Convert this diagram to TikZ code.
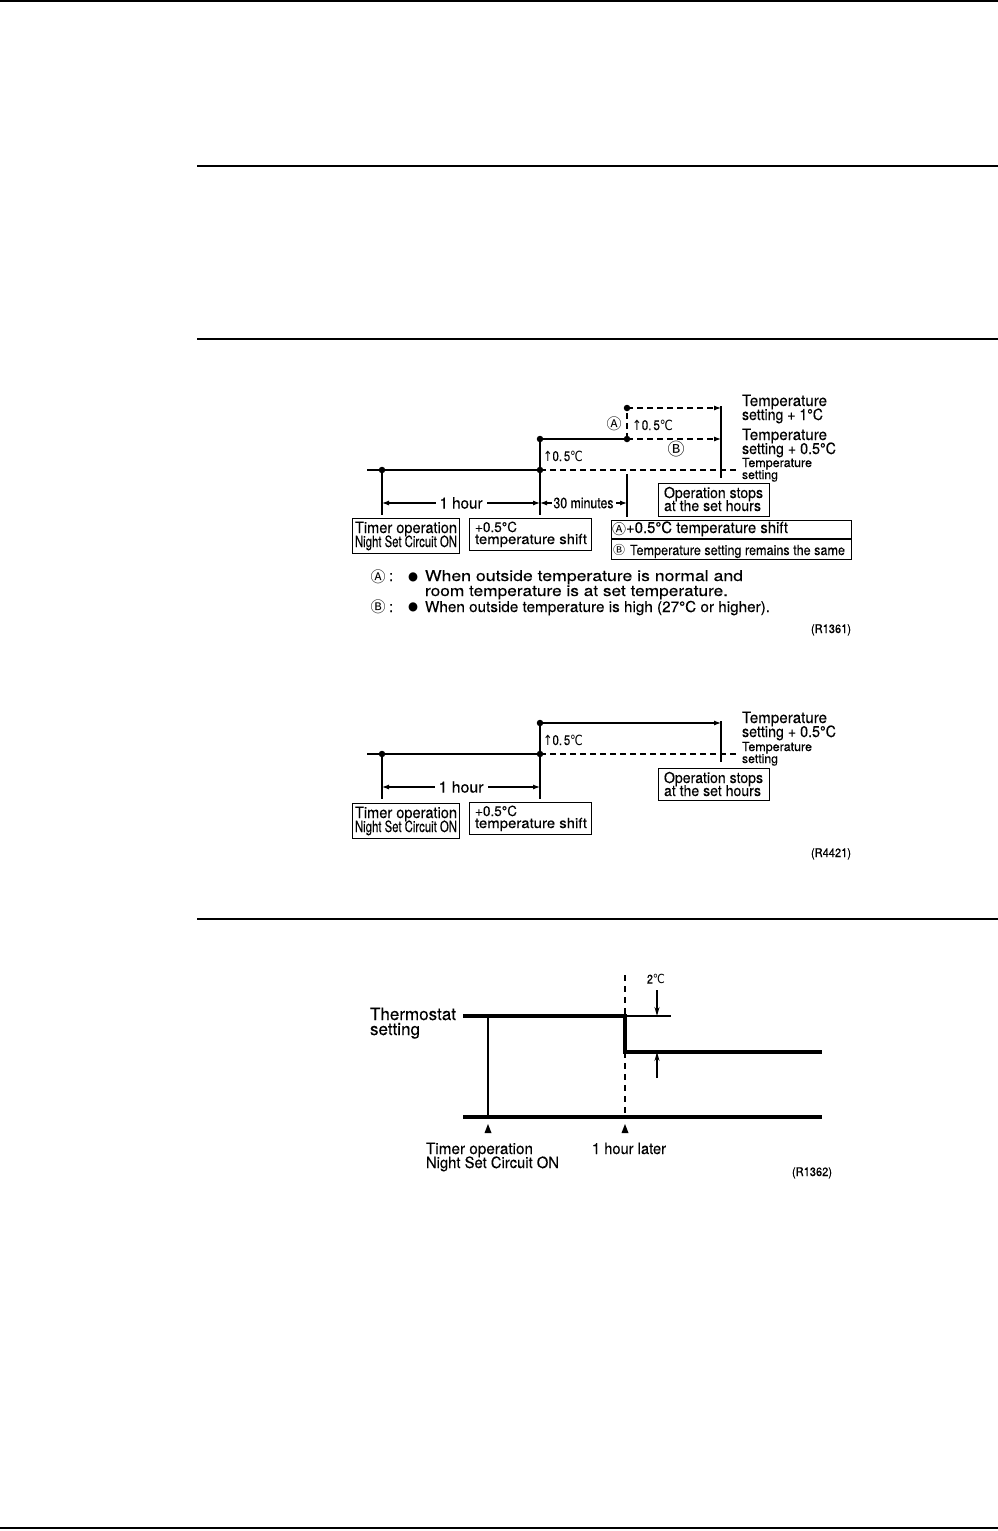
\documentclass[tikz,border=0pt]{standalone}
\usepackage{fontspec}
\usepackage{graphicx}
\setmainfont{TeX Gyre Heros}[FakeBold=0.2]
\newfontfamily\dvs{DejaVu Sans}
\newfontfamily\cjk{Noto Sans CJK JP}
\usetikzlibrary{arrows.meta}
\newcommand\tw[2]{\resizebox{#1pt}{\height}{#2}}
\begin{document}
\begin{tikzpicture}[x=1pt,y=-1pt,
  ln/.style={line width=1.1pt},
  rule/.style={line width=1.4pt},
  thk/.style={line width=3.2pt},
  dsh/.style={dash pattern=on 6pt off 4pt},
  dotn/.style={circle,fill=black,inner sep=0pt,minimum size=6.5pt},
  bx/.style={draw,line width=1.1pt,inner sep=0pt,anchor=north west},
  lbl/.style={inner sep=0pt,outer sep=0pt,anchor=base west},
  ctr/.style={inner sep=0pt,outer sep=0pt,anchor=center},
  ah/.style={-{Latex[length=7pt,width=5pt]}},
  dimar/.style={{Latex[length=7pt,width=5pt]}-{Latex[length=7pt,width=5pt]}},
  gap/.style={fill=white,inner xsep=4pt,inner ysep=1pt,anchor=center},
  s16/.style={font=\fontsize{17}{17}\selectfont},
  s15/.style={font=\fontsize{15.5}{15.5}\selectfont},
  s14/.style={font=\fontsize{15}{15}\selectfont},
  s13/.style={font=\fontsize{14}{14}\selectfont},
  s12/.style={font=\fontsize{12.5}{12.5}\selectfont},
  s11/.style={font=\fontsize{12}{12}\selectfont},
  circ/.style={inner sep=0pt,outer sep=0pt,anchor=center,font=\cjk\fontsize{#1}{#1}\selectfont},
]
\useasboundingbox (0,0) rectangle (998,1531);
\path[fill=white] (0,0) rectangle (998,1531);

% ---------- page rules ----------
\coordinate (r0a) at (0,0.8);    \coordinate (r0b) at (998,0.8);
\coordinate (r1a) at (197,166);  \coordinate (r1b) at (998,166);
\coordinate (r2a) at (197,339);  \coordinate (r2b) at (998,339);
\coordinate (r3a) at (197,919);  \coordinate (r3b) at (998,919);
\coordinate (r4a) at (0,1528);   \coordinate (r4b) at (998,1528);
\draw[rule] (r0a) -- (r0b);
\draw[rule] (r1a) -- (r1b);
\draw[rule] (r2a) -- (r2b);
\draw[rule] (r3a) -- (r3b);
\draw[rule] (r4a) -- (r4b);

% ---------- diagram R1361 ----------
\node[dotn] (a1) at (382,470) {};
\node[dotn] (a2) at (540,470) {};
\node[dotn] (a3) at (540,439) {};
\node[dotn] (a4) at (627,439) {};
\node[dotn] (a5) at (627,408) {};
\coordinate (a0) at (367,470);
\coordinate (aend) at (737,470);
\coordinate (a1b) at (382,515);
\coordinate (a2b) at (540,515);
\coordinate (a4t) at (627,474);
\coordinate (a4b) at (627,517);
\coordinate (art) at (721,406);
\coordinate (arb) at (721,478);
\coordinate (ar1) at (721,408);
\coordinate (ar2) at (721,439);
\coordinate (ad1) at (382,503);
\coordinate (ad2) at (540,503);
\coordinate (ad3) at (627,503);

\draw[ln] (a0) -- (a1.center) -- (a2.center);
\draw[ln,dsh] (a2.center) -- (aend);
\draw[ln] (a1.center) -- (a1b);
\draw[ln] (a3.center) -- (a2b);
\draw[ln] (a3.center) -- (a4.center);
\draw[ln,dsh,ah] (a4.center) -- (ar2);
\draw[ln,dsh] (a4.center) -- (a5.center);
\draw[ln,dsh,ah] (a5.center) -- (ar1);
\draw[ln] (art) -- (arb);
\draw[ln] (a4t) -- (a4b);
\draw[ln,dimar] (ad1) -- node[gap,s15] (h1) {\tw{43}{1 hour}} (ad2);
\draw[ln,dimar] (ad2) -- node[gap,s14,inner xsep=2pt] (m30) {\tw{60}{30 minutes}} (ad3);

\node[lbl,s13] (up1) at (543,461) {\tw{40}{{\dvs ↑}0.\,5{\dvs ℃}}};
\node[lbl,s13] (up2) at (632,430) {\tw{41}{{\dvs ↑}0.\,5{\dvs ℃}}};
\node[circ=15] (ca) at (614,424) {Ⓐ};
\node[circ=17] (cb) at (676,449) {Ⓑ};

\node[lbl,s15] (t1a) at (742,406) {\tw{85}{Temperature}};
\node[lbl,s15] (t1b) at (742,420) {\tw{81}{setting + 1°C}};
\node[lbl,s15] (t2a) at (742,440) {\tw{85}{Temperature}};
\node[lbl,s15] (t2b) at (742,454) {\tw{94}{setting + 0.5°C}};
\node[lbl,s12] (t3a) at (742,467) {\tw{70}{Temperature}};
\node[lbl,s12] (t3b) at (742,479) {\tw{36}{setting}};

\node[bx,minimum width=111pt,minimum height=33pt] (opbox) at (658,483) {};
\node[lbl,s14] (op1) at (664,498) {\tw{99}{Operation stops}};
\node[lbl,s14] (op2) at (664,511) {\tw{97}{at the set hours}};

\node[bx,minimum width=107pt,minimum height=35pt] (tmbox) at (352,518) {};
\node[lbl,s15] (tm1) at (355,533) {\tw{102}{Timer operation}};
\node[lbl,s15] (tm2) at (355,547) {\tw{102}{Night Set Circuit ON}};

\node[bx,minimum width=122pt,minimum height=32pt] (shbox) at (469,518) {};
\node[lbl,s13] (sh1) at (475,532) {\tw{42}{+0.5°C}};
\node[lbl,s13] (sh2) at (475,544) {\tw{112}{temperature shift}};

\node[bx,minimum width=240pt,minimum height=39pt] (abbox) at (611,520) {};
\coordinate (dvl) at (611,539);
\coordinate (dvr) at (851,539);
\draw[ln] (dvl) -- (dvr);
\node[circ=14] (ab1c) at (619,529) {Ⓐ};
\node[lbl,s15] (ab1) at (626,533) {\tw{162}{+0.5°C temperature shift}};
\node[circ=12] (ab2c) at (619,550) {Ⓑ};
\node[lbl,s13] (ab2) at (630,555) {\tw{215}{Temperature setting remains the same}};

\node[circ=15] (na) at (378,577) {Ⓐ};
\node[lbl,s14] (nac) at (389,581) {:};
\node[ctr,s11] (nab) at (413,577) {\tw{10}{\dvs ●}};
\node[lbl,s14] (na1) at (425,581) {\tw{318}{When outside temperature is normal and}};
\node[lbl,s14] (na2) at (425,596) {\tw{303}{room temperature is at set temperature.}};
\node[circ=15] (nb) at (378,607) {Ⓑ};
\node[lbl,s14] (nbc) at (389,612) {:};
\node[ctr,s11] (nbb) at (413,607) {\tw{10}{\dvs ●}};
\node[lbl,s14] (nb1) at (425,612) {\tw{345}{When outside temperature is high (27°C or higher).}};

\node[lbl,s11] (rA) at (811,633) {\tw{40}{(R1361)}};

% ---------- diagram R4421 ----------
\node[dotn] (b1) at (382,754) {};
\node[dotn] (b2) at (540,754) {};
\node[dotn] (b3) at (540,723) {};
\coordinate (b0) at (367,754);
\coordinate (bend) at (737,754);
\coordinate (b1b) at (382,799);
\coordinate (b2b) at (540,799);
\coordinate (brt) at (721,721);
\coordinate (brb) at (721,762);
\coordinate (br1) at (721,723);
\coordinate (bd1) at (382,787);
\coordinate (bd2) at (540,787);

\draw[ln] (b0) -- (b1.center) -- (b2.center);
\draw[ln,dsh] (b2.center) -- (bend);
\draw[ln] (b1.center) -- (b1b);
\draw[ln] (b3.center) -- (b2b);
\draw[ln,ah] (b3.center) -- (br1);
\draw[ln] (brt) -- (brb);
\draw[ln,dimar] (bd1) -- node[gap,s15] (h2) {\tw{45}{1 hour}} (bd2);

\node[lbl,s13] (up3) at (543,745) {\tw{40}{{\dvs ↑}0.\,5{\dvs ℃}}};

\node[lbl,s15] (u2a) at (742,723) {\tw{85}{Temperature}};
\node[lbl,s15] (u2b) at (742,737) {\tw{94}{setting + 0.5°C}};
\node[lbl,s12] (u3a) at (742,751) {\tw{70}{Temperature}};
\node[lbl,s12] (u3b) at (742,763) {\tw{36}{setting}};

\node[bx,minimum width=111pt,minimum height=32pt] (opbox2) at (658,768) {};
\node[lbl,s14] (op3) at (664,783) {\tw{99}{Operation stops}};
\node[lbl,s14] (op4) at (664,796) {\tw{97}{at the set hours}};

\node[bx,minimum width=107pt,minimum height=35pt] (tmbox2) at (352,803) {};
\node[lbl,s15] (tm3) at (355,818) {\tw{102}{Timer operation}};
\node[lbl,s15] (tm4) at (355,832) {\tw{102}{Night Set Circuit ON}};

\node[bx,minimum width=122pt,minimum height=32pt] (shbox2) at (469,802) {};
\node[lbl,s13] (sh3) at (475,816) {\tw{42}{+0.5°C}};
\node[lbl,s13] (sh4) at (475,828) {\tw{112}{temperature shift}};

\node[lbl,s11] (rB) at (811,857) {\tw{40}{(R4421)}};

% ---------- diagram R1362 ----------
\coordinate (c0) at (463,1016);
\coordinate (c1) at (625,1016);
\coordinate (c2) at (625,1052);
\coordinate (c3) at (822,1052);
\coordinate (c4) at (671,1016);
\coordinate (c5) at (463,1117);
\coordinate (c6) at (822,1117);
\coordinate (c7) at (488,1016);
\coordinate (c8) at (488,1117);
\coordinate (c9) at (625,975);
\coordinate (c10) at (625,1117);
\coordinate (k1) at (657,990);
\coordinate (k2) at (657,1016);
\coordinate (k3) at (657,1078);
\coordinate (k4) at (657,1052);

\draw[ln] (c1) -- (c4);
\draw[thk,line join=miter] (c0) -- (c1) -- (c2) -- (c3);
\draw[thk] (c5) -- (c6);
\draw[line width=1.5pt] (c7) -- (c8);
\draw[line width=1.3pt,dash pattern=on 6pt off 5pt] (c9) -- (c10);
\draw[line width=1.2pt,-{Stealth[length=9pt,width=5pt]}] (k1) -- (k2);
\draw[line width=1.2pt,-{Stealth[length=9pt,width=5pt]}] (k3) -- (k4);

\node[ctr,s12] (deg) at (656,979) {\tw{18}{2{\dvs ℃}}};

\fill (484.5,1133) -- (491.5,1133) -- (488,1124) -- cycle;
\fill (621.5,1133) -- (628.5,1133) -- (625,1124) -- cycle;

\node[lbl,s16] (th1) at (370,1020) {\tw{86}{Thermostat}};
\node[lbl,s16] (th2) at (370,1035) {\tw{50}{setting}};
\node[lbl,s15] (tc1) at (426,1154) {\tw{107}{Timer operation}};
\node[lbl,s15] (tc2) at (426,1168) {\tw{133}{Night Set Circuit ON}};
\node[lbl,s15] (hl) at (592,1154) {\tw{74}{1 hour later}};
\node[lbl,s11] (rC) at (792,1176) {\tw{40}{(R1362)}};
\end{tikzpicture}
\end{document}
